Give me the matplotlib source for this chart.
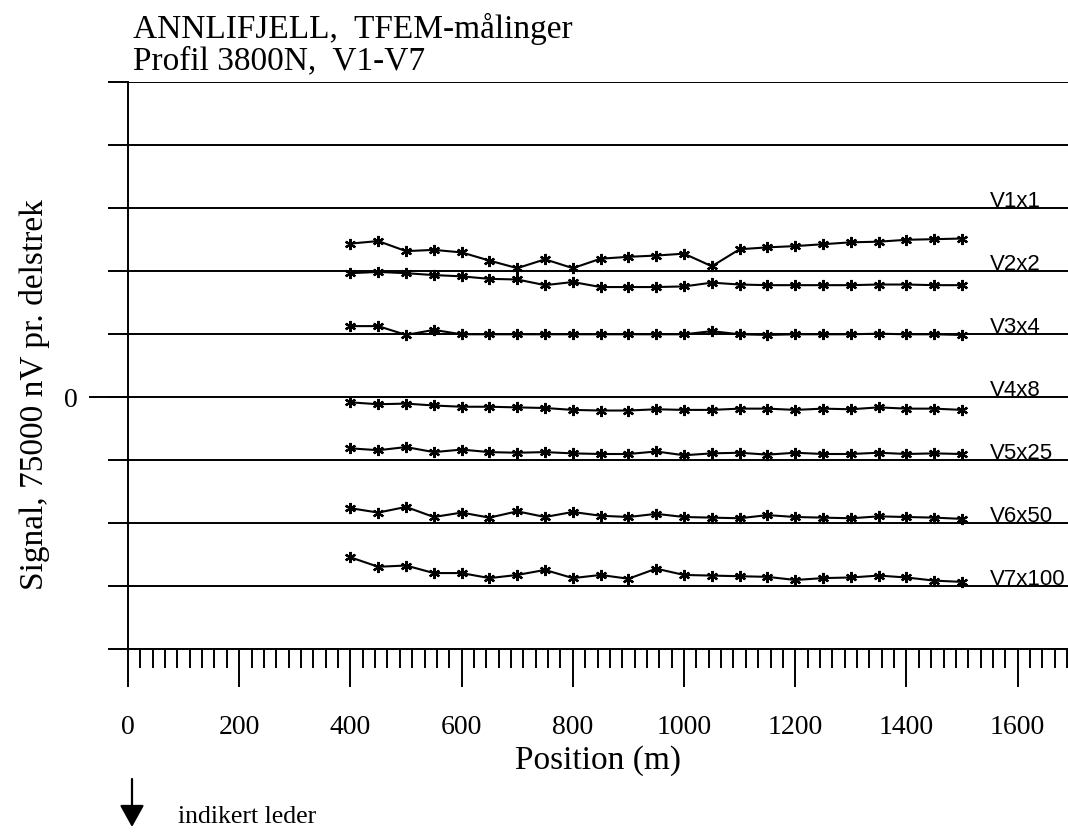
import matplotlib
matplotlib.use("Agg")
import matplotlib.pyplot as plt
from matplotlib.patches import FancyArrowPatch
from matplotlib.ticker import MultipleLocator, FixedLocator, FixedFormatter
import numpy as np

# Station positions along the profile (m)
positions = list(range(400, 1501, 50))

# Channel names with their scale factor, and the baseline each one is drawn on
channel_labels = ["V1x1", "V2x2", "V3x4", "V4x8", "V5x25", "V6x50", "V7x100"]
baselines = [3, 2, 1, 0, -1, -2, -3]

# Scaled signal per channel, in divisions relative to its baseline
v1 = [-0.56, -0.52, -0.68, -0.66, -0.70, -0.83, -0.95, -0.81, -0.95, -0.80, -0.77, -0.75,
      -0.72, -0.92, -0.65, -0.62, -0.60, -0.57, -0.54, -0.53, -0.50, -0.49, -0.48]
v2 = [-0.03, -0.01, -0.03, -0.06, -0.08, -0.12, -0.13, -0.22, -0.17, -0.25, -0.25, -0.25,
      -0.24, -0.18, -0.21, -0.22, -0.22, -0.22, -0.22, -0.21, -0.21, -0.22, -0.22]
v3 = [0.13, 0.13, -0.01, 0.07, 0.00, 0.00, 0.00, 0.00, 0.00, 0.00, 0.00, 0.00,
      0.00, 0.05, 0.00, -0.01, 0.00, 0.00, 0.00, 0.01, 0.00, 0.00, -0.01]
v4 = [-0.08, -0.11, -0.10, -0.13, -0.15, -0.15, -0.16, -0.17, -0.20, -0.21, -0.21, -0.19,
      -0.20, -0.20, -0.18, -0.18, -0.20, -0.18, -0.19, -0.16, -0.18, -0.18, -0.20]
v5 = [0.19, 0.16, 0.21, 0.13, 0.17, 0.13, 0.12, 0.13, 0.11, 0.10, 0.10, 0.14,
      0.08, 0.11, 0.12, 0.09, 0.12, 0.10, 0.10, 0.12, 0.10, 0.11, 0.10]
v6 = [0.24, 0.17, 0.26, 0.10, 0.17, 0.09, 0.19, 0.10, 0.18, 0.12, 0.10, 0.15,
      0.10, 0.09, 0.08, 0.13, 0.10, 0.09, 0.08, 0.11, 0.10, 0.09, 0.07]
v7 = [0.46, 0.31, 0.33, 0.21, 0.21, 0.13, 0.18, 0.26, 0.13, 0.18, 0.12, 0.28,
      0.18, 0.17, 0.16, 0.15, 0.10, 0.13, 0.14, 0.17, 0.14, 0.09, 0.07]
signals = [v1, v2, v3, v4, v5, v6, v7]

x_ticks = [0, 200, 400, 600, 800, 1000, 1200, 1400, 1600]

W, H = 1068, 834
fig = plt.figure(figsize=(W / 100, H / 100), dpi=100)
serif = "Liberation Serif"
sans = "Liberation Sans"

x0_px, x1_px = 128, 1068.8
ytop_px, ybot_px = 82.3, 649.3
ax = fig.add_axes([x0_px / W, 1 - ybot_px / H, (x1_px - x0_px) / W, (ybot_px - ytop_px) / H])
ax.set_xlim(0, 1692)
ax.set_ylim(-4, 5)

for sp in ("top", "right"):
    ax.spines[sp].set_visible(False)
for sp in ("left", "bottom"):
    ax.spines[sp].set_linewidth(1.4)

# horizontal division lines
ax.yaxis.set_major_locator(FixedLocator(list(range(-4, 6))))
ax.yaxis.set_major_formatter(FixedFormatter(["" if v != 0 else "0" for v in range(-4, 6)]))
ax.grid(axis="y", color="black", linewidth=1.4)
ax.tick_params(axis="y", direction="out", length=14.4, width=1.4, pad=22,
               labelsize=20)
# longer tick for the zero level
ax.plot([-(x0_px - 90) / (x1_px - x0_px), 0], [0, 0], color="black", lw=1.4,
        transform=ax.get_yaxis_transform(), clip_on=False)

ax.xaxis.set_major_locator(FixedLocator(x_ticks))
ax.xaxis.set_minor_locator(MultipleLocator(200 / 9))
ax.tick_params(axis="x", which="major", direction="out", length=27.4, width=1.4,
               pad=20, labelsize=20)
ax.tick_params(axis="x", which="minor", direction="out", length=13.7, width=1.4)
for lab in ax.get_xticklabels() + ax.get_yticklabels():
    lab.set_fontfamily(serif)

for sig, base, name in zip(signals, baselines, channel_labels):
    ax.plot(positions, np.array(sig) + base, color="black", lw=1.5,
            marker=(6, 2, 0), markersize=8, markeredgewidth=1.6, clip_on=False)
    ax.text(1550, base + 0.02, name, fontfamily=sans, fontsize=16,
            ha="left", va="baseline")

ax.set_xlabel("Position (m)", fontfamily=serif, fontsize=24, labelpad=4)
ax.set_ylabel("Signal, 75000 nV pr. delstrek", fontfamily=serif, fontsize=24)
ax.yaxis.set_label_coords(-(x0_px - 50) / (x1_px - x0_px), 0.45)

fig.text(133 / W, 1 - 38 / H, "ANNLIFJELL,  TFEM-målinger", fontfamily=serif,
         fontsize=24, va="baseline", ha="left")
fig.text(133 / W, 1 - 69 / H, "Profil 3800N,  V1-V7", fontfamily=serif,
         fontsize=24, va="baseline", ha="left")

# legend symbol for an indicated conductor
fig.add_artist(FancyArrowPatch(
    (132 / W, 1 - 779 / H), (132 / W, 1 - 827 / H), transform=fig.transFigure,
    arrowstyle="-|>,head_length=0.9,head_width=0.5", mutation_scale=15,
    shrinkA=0, shrinkB=0, color="black", lw=1.6))
fig.text(178 / W, 1 - 823 / H, "indikert leder", fontfamily=serif, fontsize=18.5,
         va="baseline", ha="left")

fig.savefig("out.png", dpi=100)
